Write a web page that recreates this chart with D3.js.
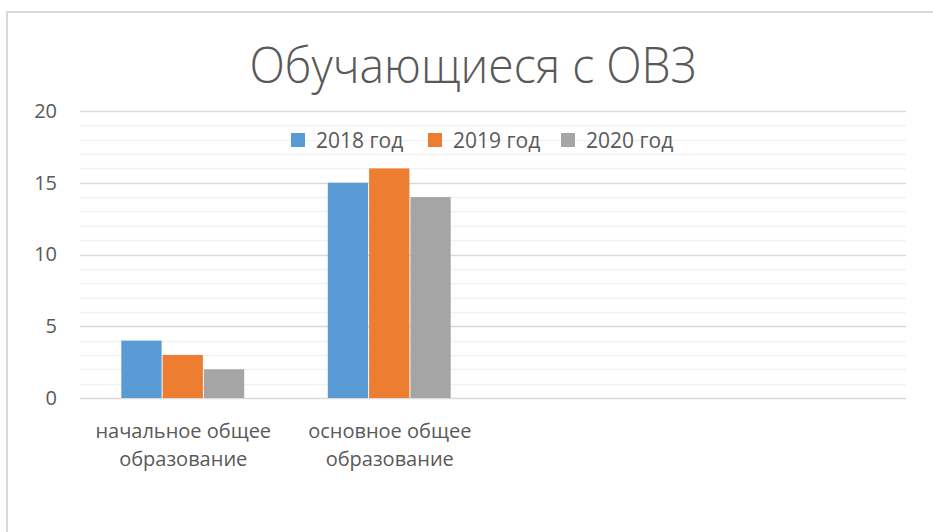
<!DOCTYPE html>
<html>
<head>
<meta charset="utf-8">
<script src="https://cdn.jsdelivr.net/npm/d3@7"></script>
<style>
  body { margin: 0; background: #fff; }
  text { font-family: "Open Sans", "Noto Sans", sans-serif; fill: #595959; }
</style>
</head>
<body>
<div id="chart"></div>
<script>
const categories = ["начальное общее образование", "основное общее образование", "", ""];
const seriesNames = ["2018 год", "2019 год", "2020 год"];
const values2018 = [4, 15, null, null];
const values2019 = [3, 16, null, null];
const values2020 = [2, 14, null, null];
const yTicks = [0, 5, 10, 15, 20];
const colors = ["#5b9bd5", "#ed7d31", "#a5a5a5"];

const width = 933, height = 532;
const margin = {top: 111, left: 80, right: 27, bottom: 134};

const svg = d3.select("#chart").append("svg")
    .attr("width", width)
    .attr("height", height);

// chart frame
svg.append("rect")
    .attr("x", 7).attr("y", 12)
    .attr("width", width).attr("height", height)
    .attr("fill", "none")
    .attr("stroke", "#d9d9d9")
    .attr("stroke-width", 2);

const x = d3.scaleBand()
    .domain(d3.range(categories.length))
    .range([margin.left, width - margin.right])
    .paddingInner(0.4)
    .paddingOuter(0.2);

const xSub = d3.scaleBand()
    .domain(d3.range(seriesNames.length))
    .range([0, x.bandwidth()]);

const y = d3.scaleLinear()
    .domain([0, 20])
    .range([height - margin.bottom, margin.top]);

// minor gridlines
svg.append("g")
  .selectAll("line")
  .data(d3.range(1, 20).filter(v => v % 5 !== 0))
  .join("line")
    .attr("x1", margin.left).attr("x2", width - margin.right)
    .attr("y1", d => Math.round(y(d)) + 0.5).attr("y2", d => Math.round(y(d)) + 0.5)
    .attr("stroke", "#f2f2f2")
    .attr("stroke-width", 1.5);

// major gridlines
svg.append("g")
  .selectAll("line")
  .data(yTicks)
  .join("line")
    .attr("x1", margin.left).attr("x2", width - margin.right)
    .attr("y1", d => Math.round(y(d)) + 0.5).attr("y2", d => Math.round(y(d)) + 0.5)
    .attr("stroke", "#d9d9d9")
    .attr("stroke-width", 1.5);

// y axis labels
const yAxis = svg.append("g")
    .attr("transform", `translate(${margin.left - 23},0)`)
    .call(d3.axisLeft(y).tickValues(yTicks).tickSize(0).tickPadding(0));
yAxis.select(".domain").remove();
yAxis.selectAll("text")
    .attr("font-size", 20)
    .attr("fill", "#595959")
    .style("font-family", "'Open Sans', sans-serif");

// bars
const series = [values2018, values2019, values2020];
series.forEach((vals, s) => {
  svg.append("g")
    .selectAll("rect")
    .data(vals.map((v, i) => ({i, v})).filter(d => d.v != null))
    .join("rect")
      .attr("x", d => x(d.i) + xSub(s))
      .attr("y", d => y(d.v))
      .attr("width", xSub.bandwidth() - 1)
      .attr("height", d => y(0) - y(d.v))
      .attr("fill", colors[s]);
});

// category labels
const catG = svg.append("g");
categories.forEach((c, i) => {
  if (!c) return;
  const words = c.split(" ");
  const lines = [words.slice(0, 2).join(" "), words.slice(2).join(" ")];
  const t = catG.append("text")
    .attr("x", x(i) + x.bandwidth() / 2)
    .attr("y", 438)
    .attr("text-anchor", "middle")
    .attr("font-size", 20);
  lines.forEach((l, k) => {
    t.append("tspan")
      .attr("x", x(i) + x.bandwidth() / 2)
      .attr("dy", k === 0 ? 0 : 28)
      .text(l);
  });
});

// title
svg.append("text")
    .attr("x", 473)
    .attr("y", 83)
    .attr("text-anchor", "middle")
    .attr("font-size", 49)
    .attr("font-weight", 300)
    .attr("textLength", 447)
    .attr("lengthAdjust", "spacingAndGlyphs")
    .text("Обучающиеся с ОВЗ");

// legend
const legendX = [291, 428, 561];
const legend = svg.append("g");
seriesNames.forEach((n, s) => {
  legend.append("rect")
    .attr("x", legendX[s]).attr("y", 133)
    .attr("width", 14).attr("height", 14)
    .attr("fill", colors[s]);
  legend.append("text")
    .attr("x", legendX[s] + 25).attr("y", 148)
    .attr("font-size", 21)
    .text(n);
});
</script>
</body>
</html>
